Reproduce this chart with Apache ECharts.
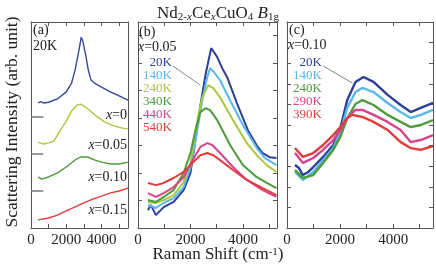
<!DOCTYPE html>
<html><head><meta charset="utf-8">
<script src="https://cdn.jsdelivr.net/npm/echarts@6/dist/echarts.min.js"></script>
<style>html,body{margin:0;padding:0;background:#fff}#c{width:436px;height:269px}</style>
</head><body><div id="c"></div>
<script>
// ---------- Panel (a): 20K, doping series (raw intensities, offsets added below)
const A_LABELS = ['x=0', 'x=0.05', 'x=0.10', 'x=0.15'];
const A_OFFSETS = [3, 2, 1, 0];
const A_X0 = [[400,0.38],[550,0.42],[700,0.38],[1000,0.40],[1500,0.49],[2000,0.68],[2300,0.92],[2500,1.27],[2700,1.76],[2850,2.16],[2950,2.03],[3100,1.68],[3250,1.27],[3400,1.00],[3600,0.92],[4000,0.81],[4500,0.68],[5000,0.57],[5500,0.46]];
const A_X005 = [[400,0.32],[700,0.27],[1000,0.30],[1300,0.35],[1600,0.60],[2000,0.89],[2300,1.16],[2600,1.32],[2800,1.35],[3000,1.30],[3300,1.19],[3700,1.03],[4200,0.86],[4700,0.76],[5200,0.70],[5500,0.68]];
const A_X010 = [[400,0.38],[600,0.32],[1000,0.38],[1500,0.49],[2000,0.65],[2500,0.84],[2800,0.92],[3200,0.92],[3600,0.84],[4000,0.78],[4500,0.73],[5000,0.73],[5500,0.78]];
const A_X015 = [[400,0.22],[1000,0.27],[1500,0.35],[2000,0.46],[2500,0.57],[3000,0.68],[3500,0.78],[4000,0.86],[4500,0.95],[5000,1.00],[5500,1.08]];
const A_SERIES = [A_X0, A_X005, A_X010, A_X015];
const A_COLORS = ['#34479c', '#a9c83e', '#4f9a3a', '#e03c3c'];

// ---------- Panel (b): x = 0.05, temperature series
const B_LABELS = ['20K', '140K', '240K', '340K', '440K', '540K'];
const B_COLORS = ['#2c3f98', '#5ab7ea', '#a9c83e', '#4f9a3a', '#d8438f', '#e03c3c'];
const B_20K = [[380,0.65],[490,0.84],[680,0.47],[980,0.76],[1360,0.95],[1740,1.38],[2000,2.0],[2190,3.2],[2380,4.47],[2570,5.56],[2790,6.55],[2900,6.4],[3020,6.22],[3210,5.82],[3400,5.49],[3770,4.55],[4190,3.56],[4530,3.0],[4750,2.73],[5020,2.58],[5280,2.55]];
const B_140K = [[380,0.84],[680,0.73],[980,0.91],[1360,1.09],[1740,1.49],[2000,2.18],[2230,3.38],[2450,4.65],[2640,5.49],[2750,5.82],[2900,5.67],[3130,5.38],[3510,4.65],[4000,3.75],[4530,2.91],[4830,2.55],[5280,2.29]];
const B_240K = [[380,0.95],[680,0.91],[980,1.02],[1360,1.2],[1740,1.67],[2000,2.36],[2230,3.75],[2450,4.76],[2680,5.2],[2870,5.09],[3130,4.76],[3620,3.93],[4150,3.09],[4530,2.65],[4910,2.29],[5280,2.04]];
const B_340K = [[380,1.02],[680,0.95],[980,1.13],[1360,1.38],[1740,2.0],[2000,2.73],[2190,3.56],[2380,4.22],[2570,4.36],[2750,4.29],[3020,3.93],[3510,3.02],[4000,2.29],[4530,1.85],[4910,1.64],[5280,1.45]];
const B_440K = [[380,1.27],[680,1.13],[980,1.27],[1360,1.49],[1740,1.85],[2080,2.47],[2380,2.95],[2640,3.09],[2830,3.02],[3130,2.73],[3620,2.22],[4150,1.75],[4750,1.38],[5280,1.13]];
const B_540K = [[380,1.64],[680,1.56],[980,1.64],[1360,1.82],[1740,2.04],[2110,2.4],[2380,2.65],[2640,2.73],[2870,2.65],[3130,2.47],[3620,2.11],[4150,1.75],[4750,1.45],[5280,1.2]];
const B_SERIES = [B_20K, B_140K, B_240K, B_340K, B_440K, B_540K];
const B_LEADER = [[1330, 5.9], [2380, 5.2]];

// ---------- Panel (c): x = 0.10, temperature series
const C_LABELS = ['20K', '140K', '240K', '290K', '390K'];
const C_COLORS = ['#2c3f98', '#5ab7ea', '#4f9a3a', '#d8438f', '#e03c3c'];
const C_20K = [[300,3.06],[450,2.91],[600,2.57],[800,2.72],[990,2.96],[1360,3.45],[1740,4.03],[2010,4.85],[2270,6.21],[2580,7.09],[2880,7.33],[3260,7.09],[3790,6.46],[4280,5.97],[4660,5.63],[5040,5.83],[5500,6.07]];
const C_140K = [[300,2.72],[600,2.33],[990,2.72],[1360,3.3],[1740,3.88],[2010,4.66],[2270,5.83],[2580,6.6],[2840,6.8],[3260,6.6],[3790,6.07],[4280,5.63],[4660,5.34],[5040,5.49],[5500,5.73]];
const C_240K = [[300,2.82],[600,2.43],[990,2.57],[1360,3.16],[1740,3.79],[2010,4.42],[2270,5.34],[2580,6.02],[2840,6.21],[3260,5.97],[3790,5.49],[4280,5.15],[4660,4.9],[5040,5.0],[5500,5.24]];
const C_290K = [[300,3.64],[600,3.16],[990,3.4],[1360,3.79],[1740,4.27],[2010,4.76],[2270,5.34],[2580,5.73],[2840,5.73],[3260,5.49],[3790,5.15],[4280,4.76],[4660,4.17],[5040,4.27],[5500,4.51]];
const C_390K = [[300,3.88],[600,3.45],[990,3.64],[1360,4.03],[1740,4.51],[2010,4.9],[2270,5.34],[2460,5.49],[2840,5.39],[3260,5.15],[3790,4.76],[4280,4.17],[4660,3.88],[5040,3.79],[5500,3.98]];
const C_SERIES = [C_20K, C_140K, C_240K, C_290K, C_390K];
const C_LEADER = [[1365, 7.86], [2460, 7.04]];

// ---------- Axes
const X_TICK_LABELS = [0, 2000, 4000];
const X_MAX = [5500, 5300, 5500];
const Y_MAX = [5.57, 7.5, 10];
const OFFSET_MARK_END = 700;

const FONT = 'Liberation Serif';
const FRAME = '#555';
const INK = '#222';

const grids = [
  {left: 31, top: 22, width: 97, height: 206},
  {left: 138, top: 22, width: 139, height: 206},
  {left: 287, top: 22, width: 146, height: 206}
];

const xAxis = [], yAxis = [];
grids.forEach((g, i) => {
  const base = {gridIndex: i, type: 'value', min: 0, max: X_MAX[i], interval: 1000,
    axisLine: {show: true, onZero: false, lineStyle: {color: FRAME, width: 1}},
    axisTick: {show: true, inside: true, length: 4, lineStyle: {color: FRAME}},
    splitLine: {show: false}};
  xAxis.push(Object.assign({}, base, {position: 'bottom',
    axisLabel: {show: true, fontFamily: FONT, fontSize: 15, color: INK, margin: 5,
      formatter: v => X_TICK_LABELS.includes(v) ? String(v) : ''}}));
  xAxis.push(Object.assign({}, base, {position: 'top', axisLabel: {show: false}}));
  const ybase = {gridIndex: i, type: 'value', min: 0, max: Y_MAX[i], interval: 1,
    axisLine: {show: true, onZero: false, lineStyle: {color: FRAME, width: 1}},
    axisTick: {show: i > 0, inside: true, length: 4, lineStyle: {color: FRAME}},
    axisLabel: {show: false}, splitLine: {show: false}};
  yAxis.push(Object.assign({}, ybase, {position: 'left'}));
  yAxis.push(Object.assign({}, ybase, {position: 'right'}));
});

const series = [];
A_SERIES.forEach((d, k) => {
  const off = A_OFFSETS[k];
  const s = {type: 'line', xAxisIndex: 0, yAxisIndex: 0, showSymbol: false, symbol: 'none',
    lineStyle: {color: A_COLORS[k], width: 1.4}, itemStyle: {color: A_COLORS[k]},
    data: d.map(p => [p[0], p[1] + off]), animation: false};
  if (off > 0) {
    s.markLine = {silent: true, symbol: 'none', label: {show: false},
      lineStyle: {color: '#777', width: 1.5, type: 'solid'}, animation: false,
      data: [[{coord: [0, off]}, {coord: [OFFSET_MARK_END, off]}]]};
  }
  series.push(s);
});
B_SERIES.forEach((d, k) => {
  const s = {type: 'line', xAxisIndex: 2, yAxisIndex: 2, showSymbol: false, symbol: 'none',
    lineStyle: {color: B_COLORS[k], width: 2}, itemStyle: {color: B_COLORS[k]}, data: d, animation: false};
  if (k === 0) s.markLine = {silent: true, symbol: 'none', label: {show: false}, animation: false,
    lineStyle: {color: '#666', width: 0.8, type: 'solid'},
    data: [[{coord: B_LEADER[0]}, {coord: B_LEADER[1]}]]};
  series.push(s);
});
C_SERIES.forEach((d, k) => {
  const s = {type: 'line', xAxisIndex: 4, yAxisIndex: 4, showSymbol: false, symbol: 'none',
    lineStyle: {color: C_COLORS[k], width: 2.4}, itemStyle: {color: C_COLORS[k]}, data: d, animation: false};
  if (k === 0) s.markLine = {silent: true, symbol: 'none', label: {show: false}, animation: false,
    lineStyle: {color: '#666', width: 0.8, type: 'solid'},
    data: [[{coord: C_LEADER[0]}, {coord: C_LEADER[1]}]]};
  series.push(s);
});

// ---------- Text
function txt(x, y, text, opts) {
  return {type: 'text', x: x, y: y, silent: true, z: 100,
    style: Object.assign({text: text, fontFamily: FONT, fontSize: 14, fill: INK,
      textAlign: 'left', textVerticalAlign: 'middle'}, opts || {})};
}
const xRich = (c, fs) => ({i: {fontStyle: 'italic', fontFamily: FONT, fontSize: fs, color: c}, n: {fontFamily: FONT, fontSize: fs, color: c}});
const graphic = [];
graphic.push(txt(218, 12, '{n|Nd}{s|2-}{si|x}{n|Ce}{si|x}{n|CuO}{s|4}{n| }{ni|B}{s|1g}', {textAlign: 'center',
  rich: {n: {fontFamily: FONT, fontSize: 17, lineHeight: 21, verticalAlign: 'bottom', color: INK},
    ni: {fontFamily: FONT, fontSize: 17, fontStyle: 'italic', lineHeight: 21, verticalAlign: 'bottom', color: INK},
    s: {fontFamily: FONT, fontSize: 11, lineHeight: 12, verticalAlign: 'bottom', color: INK},
    si: {fontFamily: FONT, fontSize: 11, fontStyle: 'italic', lineHeight: 12, verticalAlign: 'bottom', color: INK}}}));
graphic.push(Object.assign(txt(12, 122, 'Scattering Intensity (arb. unit)', {textAlign: 'center', fontSize: 17.5}), {rotation: Math.PI / 2}));
graphic.push(txt(218, 257, '{n|Raman Shift (cm}{p|-1}{n|)}', {textAlign: 'center',
  rich: {n: {fontFamily: FONT, fontSize: 17, lineHeight: 21, verticalAlign: 'top', color: INK},
    p: {fontFamily: FONT, fontSize: 11, lineHeight: 12, verticalAlign: 'top', color: INK}}}));

graphic.push(txt(33, 30, '(a)'));
graphic.push(txt(33, 46, '20K'));
const A_LABEL_Y = [115, 145, 177, 210];
A_LABELS.forEach((l, k) => {
  graphic.push(txt(127, A_LABEL_Y[k], '{i|x}{n|' + l.slice(1) + '}', {textAlign: 'right', rich: xRich(A_COLORS[k], 14)}));
});
graphic.push(txt(139, 32, '(b)'));
graphic.push(txt(138, 47, '{i|x}{n|=0.05}', {rich: xRich(INK, 14)}));
B_LABELS.forEach((l, k) => graphic.push(txt(172, 63 + 13 * k, l, {textAlign: 'right', fontSize: 13, fill: B_COLORS[k]})));
graphic.push(txt(289, 30, '(c)'));
graphic.push(txt(288, 45, '{i|x}{n|=0.10}', {rich: xRich(INK, 14)}));
C_LABELS.forEach((l, k) => graphic.push(txt(322, 63 + 13 * k, l, {textAlign: 'right', fontSize: 13, fill: C_COLORS[k]})));

const chart = echarts.init(document.getElementById('c'), null, {renderer: 'canvas'});
chart.setOption({animation: false, backgroundColor: '#fff', grid: grids, xAxis: xAxis, yAxis: yAxis, series: series, graphic: graphic});
</script></body></html>
